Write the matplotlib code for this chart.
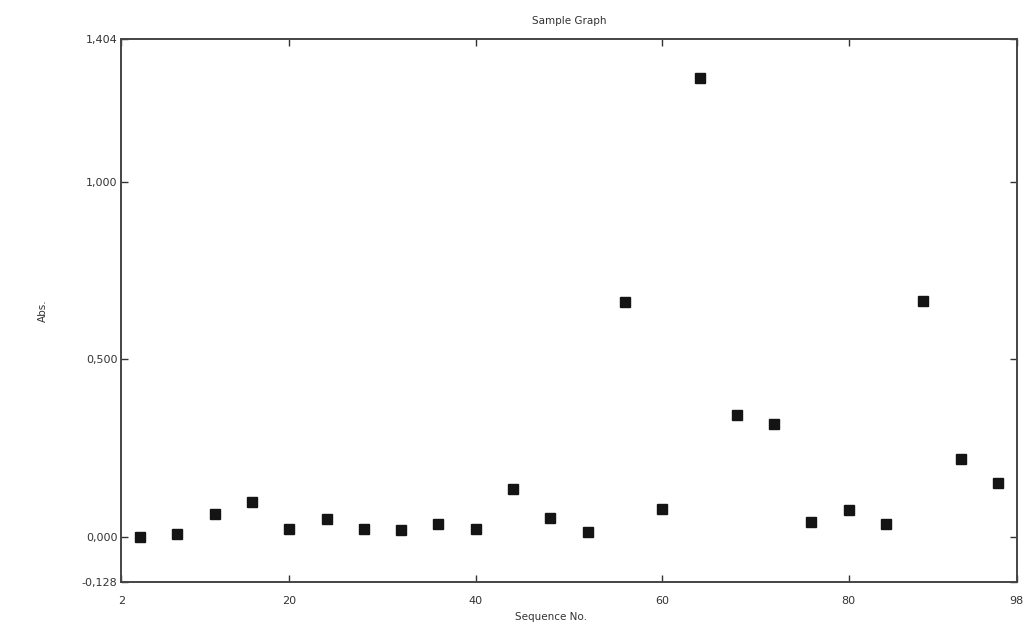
import matplotlib.pyplot as plt

# data
seq_no = [4, 8, 12, 16, 20, 24, 28, 32, 36, 40, 44, 48,
          52, 56, 60, 64, 68, 72, 76, 80, 84, 88, 92, 96]
absorb = [0.000, 0.007, 0.063, 0.097, 0.021, 0.049, 0.023, 0.019,
          0.037, 0.023, 0.136, 0.052, 0.014, 0.661, 0.077, 1.294,
          0.344, 0.317, 0.043, 0.075, 0.037, 0.665, 0.218, 0.151]

x_ticks = [2, 20, 40, 60, 80, 98]
x_labels = ['2', '20', '40', '60', '80', '98']
y_ticks = [-0.128, 0.0, 0.5, 1.0, 1.404]
y_labels = ['-0,128', '0,000', '0,500', '1,000', '1,404']

fig = plt.figure(figsize=(10.29, 6.28), dpi=100)
ax = fig.add_axes([0.118, 0.073, 0.870, 0.865])

ax.plot(seq_no, absorb, linestyle='none', marker='s', markersize=7.5,
        color='#141414')

ax.set_xlim(2, 98)
ax.set_ylim(-0.128, 1.404)
ax.set_xticks(x_ticks)
ax.set_xticklabels(x_labels)
ax.set_yticks(y_ticks)
ax.set_yticklabels(y_labels)
ax.tick_params(direction='in', length=5, width=1, top=True, right=True,
               labelsize=8, colors='#333333')
ax.tick_params(axis='x', pad=10)
ax.tick_params(axis='y', pad=3)

for s in ax.spines.values():
    s.set_linewidth(1.4)
    s.set_color('#444444')

ax.set_title('Sample Graph', fontsize=7.5, color='#333333', pad=11)
ax.set_xlabel('Sequence No.', fontsize=7.5, color='#333333', labelpad=6)
ax.xaxis.set_label_coords(0.48, -0.055)
ax.set_ylabel('Abs.', fontsize=7.5, color='#333333', labelpad=24)

fig.savefig('out.png', dpi=100, facecolor='white')
